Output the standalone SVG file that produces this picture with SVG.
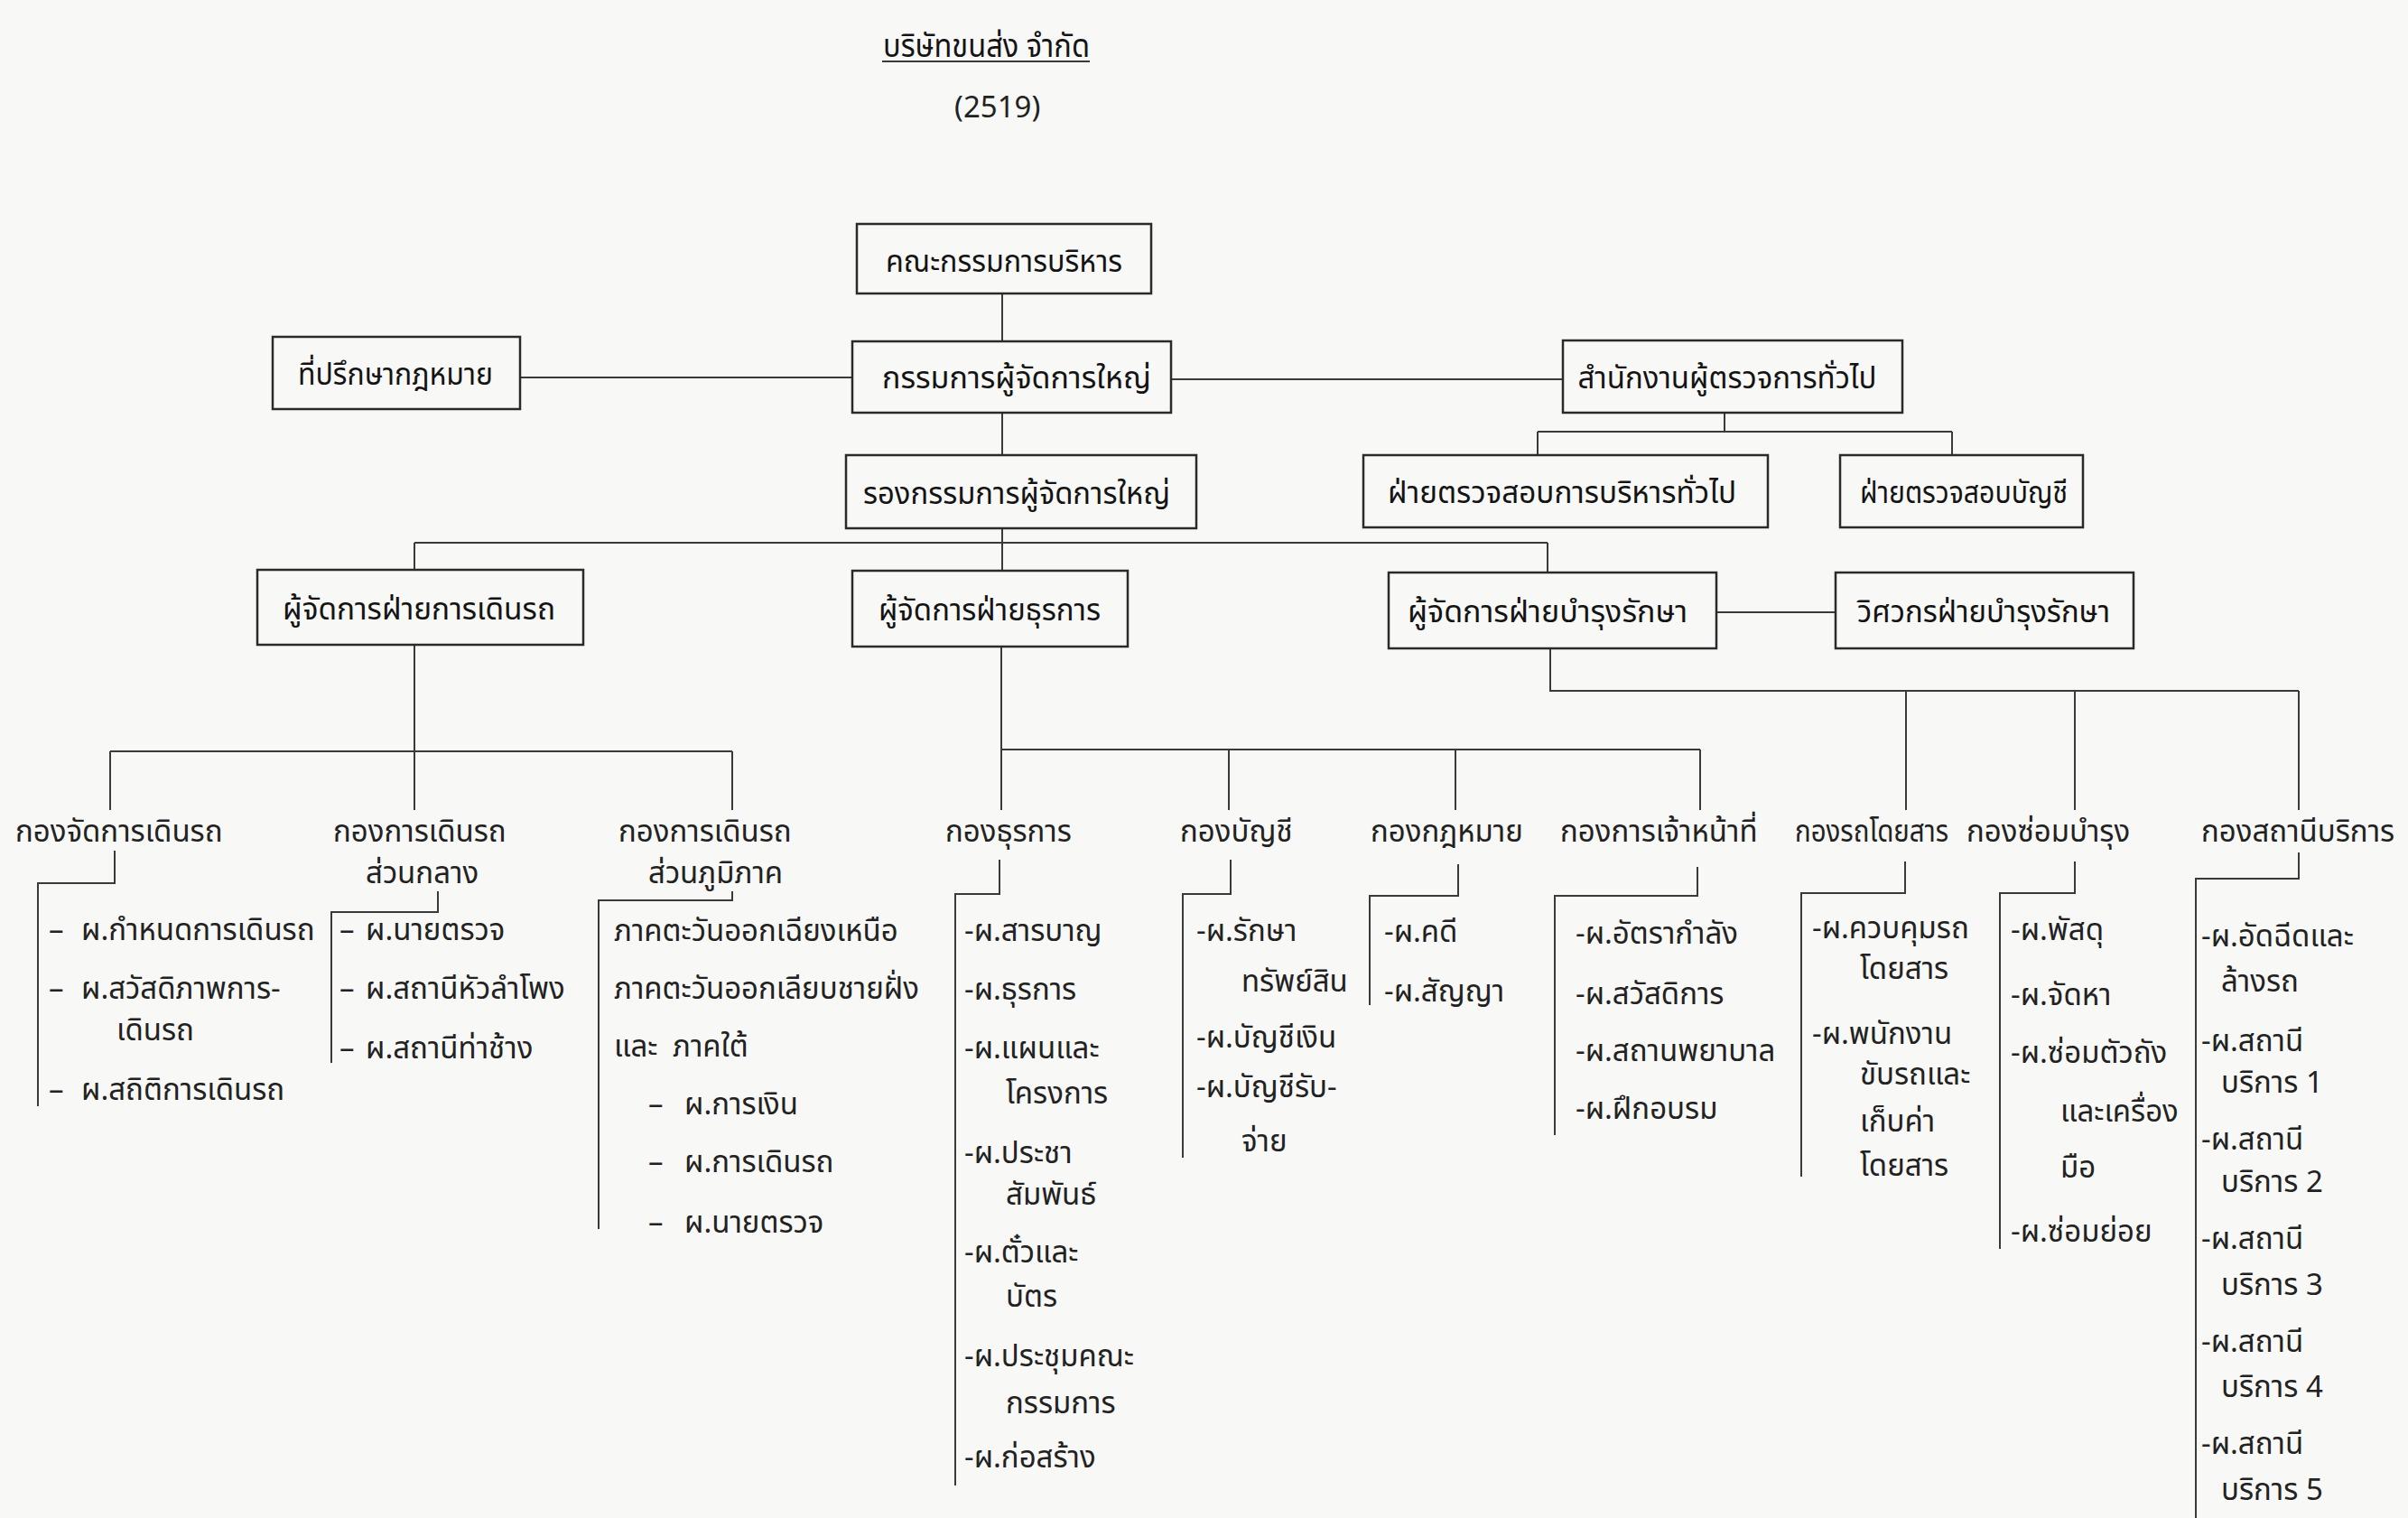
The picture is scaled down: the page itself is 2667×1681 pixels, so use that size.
<svg xmlns="http://www.w3.org/2000/svg" width="2667" height="1681" viewBox="0 0 2667 1681">
<style>
text{font-family:"Tlwg Typist","Tlwg Mono","Noto Sans Thai","Noto Sans Thai UI","Loma","Garuda","Norasi","DejaVu Sans","Noto Sans",sans-serif;fill:#222}
.t{font-size:33px}
.h{font-size:33px}
.b{font-size:33px;text-anchor:middle;fill:#141414}
.ttl{font-size:36px;fill:#141414}
.box{fill:none;stroke:#2a2a2a;stroke-width:2.5}
.ln{fill:none;stroke:#3a3a3a;stroke-width:2}
</style>
<rect x="0" y="0" width="2667" height="1681" fill="#f8f8f7"/>

<g id="title">
<text class="ttl" x="978" y="63" textLength="229" lengthAdjust="spacingAndGlyphs">บริษัทขนส่ง จำกัด</text>
<line class="ln" x1="977" y1="68" x2="1207" y2="68"/>
<text class="t" x="1057" y="130">(2519)</text>
</g>

<g id="connectors">
<path class="ln" d="M1110 325V378M1110 457V504M1110 585V632M459 601H1714M459 601V631M1714 601V634"/>
<path class="ln" d="M576 418H944M1297 420H1731M1910 457V478M1703 478H2162M1703 478V504M2162 478V504M1901 678H2033"/>
<path class="ln" d="M1717 718V765H2546M2111 765V897M2298 765V897M2546 765V897"/>
<path class="ln" d="M459 714V897M122 832H811M122 832V897M811 832V897"/>
<path class="ln" d="M1109 716V897M1109 830H1883M1361 830V897M1612 830V897M1883 830V897"/>
<path class="ln" d="M127 942V978H42V1225M485 987V1010H367V1177M811 987V997H663V1361"/>
<path class="ln" d="M1107 952V990H1058V1645M1363 952V990H1310V1282M1615 957V992H1517V1113M1880 960V992H1722V1257"/>
<path class="ln" d="M2110 954V989H1995V1303M2298 954V989H2215V1383M2546 944V973H2432V1681"/>
</g>

<g id="n-board"><rect class="box" x="949" y="248" width="326" height="77"/><text class="b" x="1112" y="301" textLength="262" lengthAdjust="spacingAndGlyphs">คณะกรรมการบริหาร</text></g>
<g id="n-president"><rect class="box" x="944" y="378" width="353" height="79"/><text class="b" x="1126" y="430" textLength="298" lengthAdjust="spacingAndGlyphs">กรรมการผู้จัดการใหญ่</text></g>
<g id="n-legal-advisor"><rect class="box" x="302" y="373" width="274" height="80"/><text class="b" x="438" y="426" textLength="216" lengthAdjust="spacingAndGlyphs">ที่ปรึกษากฎหมาย</text></g>
<g id="n-vice-president"><rect class="box" x="937" y="504" width="388" height="81"/><text class="b" x="1126" y="558" textLength="340" lengthAdjust="spacingAndGlyphs">รองกรรมการผู้จัดการใหญ่</text></g>
<g id="n-inspector-office"><rect class="box" x="1731" y="377" width="376" height="80"/><text class="b" x="1913" y="430" textLength="331" lengthAdjust="spacingAndGlyphs">สำนักงานผู้ตรวจการทั่วไป</text></g>
<g id="n-admin-audit"><rect class="box" x="1510" y="504" width="448" height="80"/><text class="b" x="1730" y="557" textLength="386" lengthAdjust="spacingAndGlyphs">ฝ่ายตรวจสอบการบริหารทั่วไป</text></g>
<g id="n-account-audit"><rect class="box" x="2038" y="504" width="269" height="80"/><text class="b" x="2175" y="557" textLength="230" lengthAdjust="spacingAndGlyphs">ฝ่ายตรวจสอบบัญชี</text></g>
<g id="n-operation-mgr"><rect class="box" x="285" y="631" width="361" height="83"/><text class="b" x="464" y="686" textLength="302" lengthAdjust="spacingAndGlyphs">ผู้จัดการฝ่ายการเดินรถ</text></g>
<g id="n-general-mgr"><rect class="box" x="944" y="632" width="305" height="84"/><text class="b" x="1096" y="687" textLength="246" lengthAdjust="spacingAndGlyphs">ผู้จัดการฝ่ายธุรการ</text></g>
<g id="n-maint-mgr"><rect class="box" x="1538" y="634" width="363" height="84"/><text class="b" x="1714" y="689" textLength="310" lengthAdjust="spacingAndGlyphs">ผู้จัดการฝ่ายบำรุงรักษา</text></g>
<g id="n-maint-engineer"><rect class="box" x="2033" y="634" width="330" height="84"/><text class="b" x="2197" y="689" textLength="280" lengthAdjust="spacingAndGlyphs">วิศวกรฝ่ายบำรุงรักษา</text></g>

<g id="d-operation-mgmt">
<text class="h" x="17" y="932">กองจัดการเดินรถ</text>
<text class="t" x="54" y="1041">–<tspan x="90">ผ.กำหนดการเดินรถ</tspan></text>
<text class="t" x="54" y="1106">–<tspan x="90">ผ.สวัสดิภาพการ-</tspan></text>
<text class="t" x="129" y="1152">เดินรถ</text>
<text class="t" x="54" y="1218">–<tspan x="90">ผ.สถิติการเดินรถ</tspan></text>
</g>
<g id="d-operation-central">
<text class="h" x="369" y="932">กองการเดินรถ</text>
<text class="t" x="405" y="978">ส่วนกลาง</text>
<text class="t" x="376" y="1041">–<tspan x="405">ผ.นายตรวจ</tspan></text>
<text class="t" x="376" y="1106">–<tspan x="405">ผ.สถานีหัวลำโพง</tspan></text>
<text class="t" x="376" y="1172">–<tspan x="405">ผ.สถานีท่าช้าง</tspan></text>
</g>
<g id="d-operation-regional">
<text class="h" x="685" y="932">กองการเดินรถ</text>
<text class="t" x="718" y="978">ส่วนภูมิภาค</text>
<text class="t" x="680" y="1042">ภาคตะวันออกเฉียงเหนือ</text>
<text class="t" x="680" y="1106">ภาคตะวันออกเลียบชายฝั่ง</text>
<text class="t" x="680" y="1170">และ<tspan x="745">ภาคใต้</tspan></text>
<text class="t" x="718" y="1234">–<tspan x="758">ผ.การเงิน</tspan></text>
<text class="t" x="718" y="1298">–<tspan x="758">ผ.การเดินรถ</tspan></text>
<text class="t" x="718" y="1365">–<tspan x="758">ผ.นายตรวจ</tspan></text>
</g>
<g id="d-general-affairs">
<text class="h" x="1047" y="932">กองธุรการ</text>
<text class="t" x="1068" y="1042">-ผ.สารบาญ</text>
<text class="t" x="1068" y="1107">-ผ.ธุรการ</text>
<text class="t" x="1068" y="1172">-ผ.แผนและ</text>
<text class="t" x="1114" y="1222">โครงการ</text>
<text class="t" x="1068" y="1288">-ผ.ประชา</text>
<text class="t" x="1114" y="1334">สัมพันธ์</text>
<text class="t" x="1068" y="1398">-ผ.ตั๋วและ</text>
<text class="t" x="1114" y="1447">บัตร</text>
<text class="t" x="1068" y="1513">-ผ.ประชุมคณะ</text>
<text class="t" x="1114" y="1565">กรรมการ</text>
<text class="t" x="1068" y="1625">-ผ.ก่อสร้าง</text>
</g>
<g id="d-accounting">
<text class="h" x="1307" y="932">กองบัญชี</text>
<text class="t" x="1325" y="1042">-ผ.รักษา</text>
<text class="t" x="1375" y="1098">ทรัพย์สิน</text>
<text class="t" x="1325" y="1160">-ผ.บัญชีเงิน</text>
<text class="t" x="1325" y="1215">-ผ.บัญชีรับ-</text>
<text class="t" x="1375" y="1275">จ่าย</text>
</g>
<g id="d-legal">
<text class="h" x="1518" y="932">กองกฎหมาย</text>
<text class="t" x="1533" y="1043">-ผ.คดี</text>
<text class="t" x="1533" y="1109">-ผ.สัญญา</text>
</g>
<g id="d-personnel">
<text class="h" x="1728" y="932">กองการเจ้าหน้าที่</text>
<text class="t" x="1745" y="1045">-ผ.อัตรากำลัง</text>
<text class="t" x="1745" y="1112">-ผ.สวัสดิการ</text>
<text class="t" x="1745" y="1175">-ผ.สถานพยาบาล</text>
<text class="t" x="1745" y="1239">-ผ.ฝึกอบรม</text>
</g>
<g id="d-bus">
<text class="h" x="1988" y="932" textLength="170" lengthAdjust="spacingAndGlyphs">กองรถโดยสาร</text>
<text class="t" x="2007" y="1039">-ผ.ควบคุมรถ</text>
<text class="t" x="2060" y="1084">โดยสาร</text>
<text class="t" x="2007" y="1156">-ผ.พนักงาน</text>
<text class="t" x="2060" y="1201">ขับรถและ</text>
<text class="t" x="2060" y="1253">เก็บค่า</text>
<text class="t" x="2060" y="1302">โดยสาร</text>
</g>
<g id="d-repair">
<text class="h" x="2178" y="932">กองซ่อมบำรุง</text>
<text class="t" x="2227" y="1041">-ผ.พัสดุ</text>
<text class="t" x="2227" y="1113">-ผ.จัดหา</text>
<text class="t" x="2227" y="1177">-ผ.ซ่อมตัวถัง</text>
<text class="t" x="2282" y="1242">และเครื่อง</text>
<text class="t" x="2282" y="1304">มือ</text>
<text class="t" x="2227" y="1375">-ผ.ซ่อมย่อย</text>
</g>
<g id="d-service-station">
<text class="h" x="2438" y="932">กองสถานีบริการ</text>
<text class="t" x="2438" y="1048">-ผ.อัดฉีดและ</text>
<text class="t" x="2460" y="1098">ล้างรถ</text>
<text class="t" x="2438" y="1164">-ผ.สถานี</text>
<text class="t" x="2460" y="1210">บริการ 1</text>
<text class="t" x="2438" y="1273">-ผ.สถานี</text>
<text class="t" x="2460" y="1320">บริการ 2</text>
<text class="t" x="2438" y="1383">-ผ.สถานี</text>
<text class="t" x="2460" y="1434">บริการ 3</text>
<text class="t" x="2438" y="1497">-ผ.สถานี</text>
<text class="t" x="2460" y="1547">บริการ 4</text>
<text class="t" x="2438" y="1610">-ผ.สถานี</text>
<text class="t" x="2460" y="1661">บริการ 5</text>
</g>
</svg>
